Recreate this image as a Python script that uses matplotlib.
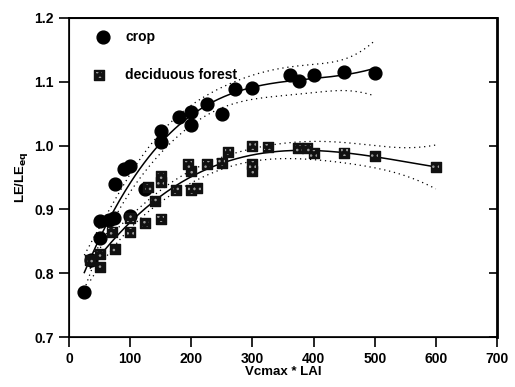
import numpy as np
import matplotlib
matplotlib.use("Agg")
import matplotlib.pyplot as plt

plt.rcParams['font.family'] = ['Liberation Sans', 'DejaVu Sans']
plt.rcParams['font.weight'] = 'bold'

# crop data (Vcmax*LAI, LE/LEeq)
crop_x = [25, 36, 50, 50, 65, 74, 75, 90, 100, 100, 125, 150, 150, 180, 200,
          200, 225, 250, 272, 300, 362, 376, 400, 450, 500]
crop_y = [0.77, 0.82, 0.855, 0.882, 0.884, 0.886, 0.94, 0.963, 0.968, 0.89,
          0.932, 1.023, 1.005, 1.045, 1.052, 1.032, 1.066, 1.049, 1.089, 1.091,
          1.111, 1.101, 1.111, 1.116, 1.114]

# deciduous forest data
forest_x = [35, 50, 50, 70, 75, 100, 100, 125, 130, 140, 150, 150, 150, 175,
            195, 200, 200, 210, 225, 250, 260, 300, 300, 300, 325, 375, 390,
            400, 450, 500, 600]
forest_y = [0.82, 0.81, 0.83, 0.865, 0.838, 0.865, 0.886, 0.878, 0.935, 0.914,
            0.885, 0.943, 0.952, 0.93, 0.971, 0.96, 0.93, 0.933, 0.971, 0.973,
            0.99, 0.999, 0.971, 0.961, 0.998, 0.996, 0.996, 0.988, 0.989,
            0.984, 0.966]

xticks = [0, 100, 200, 300, 400, 500, 600, 700]
yticks = [0.7, 0.8, 0.9, 1.0, 1.1, 1.2]


def poly_fit(x, y, deg=3, n=200):
    # polynomial regression with 95% confidence band
    x = np.asarray(x, float)
    y = np.asarray(y, float)
    X = np.vander(x, deg + 1)
    coef, *_ = np.linalg.lstsq(X, y, rcond=None)
    resid = y - X @ coef
    dof = len(x) - (deg + 1)
    s2 = resid @ resid / dof
    cov = np.linalg.inv(X.T @ X)
    xs = np.linspace(x.min(), x.max(), n)
    Xs = np.vander(xs, deg + 1)
    ys = Xs @ coef
    se = np.sqrt(s2 * np.einsum('ij,jk,ik->i', Xs, cov, Xs))
    t = 2.07
    return xs, ys, ys - t * se, ys + t * se


fig = plt.figure(figsize=(5.15, 3.87), dpi=100)
ax = fig.add_axes([0.134, 0.129, 0.831, 0.8245])

for x, y in [(crop_x, crop_y), (forest_x, forest_y)]:
    xs, ys, lo, hi = poly_fit(x, y)
    ax.plot(xs, ys, color='black', lw=1.1, zorder=2)
    ax.plot(xs, lo, color='black', lw=0.9, ls=(0, (1, 3)), zorder=2)
    ax.plot(xs, hi, color='black', lw=0.9, ls=(0, (1, 3)), zorder=2)

ax.scatter(crop_x, crop_y, s=85, marker='o', color='black', zorder=3)
ax.scatter(forest_x, forest_y, s=55, marker='s', color='#111111', zorder=3)
ax.scatter(forest_x, forest_y, s=24, marker='s', facecolor='none',
           edgecolor='#9a9a9a', linewidths=0, hatch='...', zorder=4)

# legend drawn as text + markers
ax.scatter([0.08], [0.94], s=85, marker='o', color='black',
           transform=ax.transAxes, clip_on=False, zorder=5)
ax.scatter([0.07], [0.82], s=45, marker='s', color='#111111',
           transform=ax.transAxes, clip_on=False, zorder=5)
ax.scatter([0.07], [0.82], s=18, marker='s', facecolor='none',
           edgecolor='#9a9a9a', linewidths=0, hatch='...',
           transform=ax.transAxes, clip_on=False, zorder=6)
ax.text(0.131, 0.94, 'crop', transform=ax.transAxes, fontsize=10,
        fontweight='bold', va='center')
ax.text(0.131, 0.82, 'deciduous forest', transform=ax.transAxes, fontsize=10,
        fontweight='bold', va='center')

ax.set_xlim(0, 700)
ax.set_ylim(0.7, 1.2)
ax.set_xticks(xticks)
ax.set_yticks(yticks)
ax.set_yticklabels(['%.1f' % v for v in yticks])
ax.tick_params(axis='both', labelsize=10, width=1.2, length=7,
               direction='out', pad=4)
ax.set_xlabel('Vcmax * LAI', fontsize=9.5, fontweight='bold', labelpad=0)
ax.set_ylabel('LE/LE$_{\\mathbf{eq}}$', fontsize=9.5, fontweight='bold',
              labelpad=3)

# right axis ticks pointing inward
ax2 = ax.twinx()
ax2.set_ylim(0.7, 1.2)
ax2.set_yticks(yticks)
ax2.set_yticklabels([])
ax2.tick_params(axis='y', direction='in', length=6, width=1.2)
ax2.spines['right'].set_linewidth(2.0)
ax.spines['left'].set_linewidth(1.2)
ax.spines['bottom'].set_linewidth(1.2)
ax.spines['top'].set_linewidth(1.4)

fig.savefig('out.png', dpi=100)
